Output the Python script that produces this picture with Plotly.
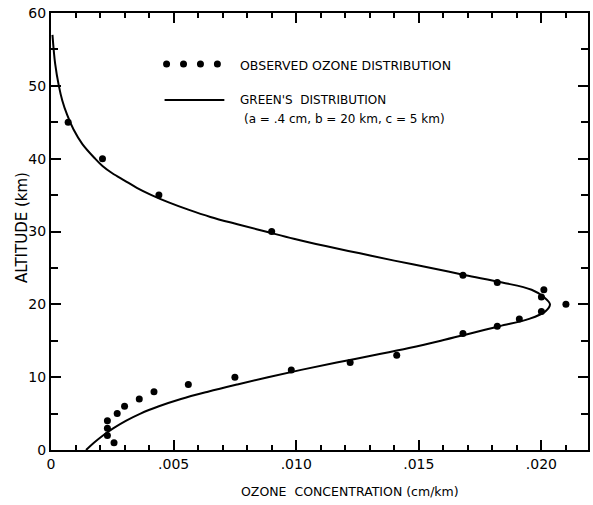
import plotly.graph_objects as go

# Observed ozone profile (altitude in km, concentration in cm/km)
obs_alt = [1, 2, 3, 4, 5, 6, 7, 8, 9, 10, 11, 12, 13, 16, 17, 18, 19, 20, 21, 22, 23, 24, 30, 35, 40, 45]
obs_conc = [0.00257, 0.0023, 0.0023, 0.0023, 0.0027, 0.0030, 0.0036, 0.0042, 0.0056, 0.0075,
            0.0098, 0.0122, 0.0141, 0.0168, 0.0182, 0.0191, 0.0200, 0.0210, 0.0200, 0.0201,
            0.0182, 0.0168, 0.0090, 0.0044, 0.0021, 0.0007]

# Green's distribution curve (a = .4 cm, b = 20 km, c = 5 km)
green_alt = [0, 1, 2, 3, 4, 5, 6, 7, 8, 9, 10, 11, 12, 13, 14, 15, 16, 17, 18, 19, 20,
             21, 22, 23, 24, 25, 26, 27, 28, 29, 30, 31, 32, 33, 34, 35, 36, 37, 38, 39, 40,
             42, 44, 46, 48, 50, 53, 57]
green_conc = [0.00143, 0.00175, 0.00212, 0.00255, 0.00305, 0.00365, 0.00440, 0.00530,
              0.00640, 0.00760, 0.00885, 0.01020, 0.01165, 0.01315, 0.01460, 0.01590,
              0.01710, 0.01830, 0.01950, 0.02015, 0.02035, 0.02010, 0.01960, 0.01840,
              0.01690, 0.01550, 0.01400, 0.01260, 0.01120, 0.00990, 0.00875, 0.00760,
              0.00650, 0.00560, 0.00480, 0.00410, 0.00350, 0.00300, 0.00250, 0.00210,
              0.00180, 0.00128, 0.00092, 0.00066, 0.00046, 0.00032, 0.00017, 0.00006]

x_tickvals = [0, 0.005, 0.010, 0.015, 0.020]
x_ticktext = ["0", ".005", ".010", ".015", ".020"]
y_tickvals = [0, 10, 20, 30, 40, 50, 60]
y_ticktext = ["0", "10", "20", "30", "40", "50", "60"]

FONT = "DejaVu Sans"
W, H = 593, 505
ML, MR, MT, MB = 51, 3, 13, 55
PW, PH = W - ML - MR, H - MT - MB


def px(xpix):
    return (xpix - ML) / PW


def py(ypix):
    return 1 - (ypix - MT) / PH


fig = go.Figure()
fig.add_trace(go.Scatter(
    x=green_conc, y=green_alt, mode="lines",
    line=dict(color="black", width=2, shape="spline", smoothing=1.0),
    hoverinfo="skip", showlegend=False))
fig.add_trace(go.Scatter(
    x=obs_conc, y=obs_alt, mode="markers",
    marker=dict(color="black", size=7),
    showlegend=False))

axis_common = dict(
    showgrid=False, zeroline=False, showline=True, linecolor="black", linewidth=2,
    mirror="ticks", ticks="inside", tickcolor="black", tickwidth=1.5,
    tickfont=dict(family=FONT, size=14, color="black"),
)

fig.update_xaxes(
    range=[0, 0.0219], tickvals=x_tickvals, ticktext=x_ticktext, ticklen=10,
    minor=dict(ticks="inside", dtick=0.001, tick0=0, ticklen=5, tickcolor="black", tickwidth=1.5),
    **axis_common)
fig.update_yaxes(
    range=[0, 60], tickvals=y_tickvals, ticktext=y_ticktext, ticklen=10,
    minor=dict(ticks="inside", dtick=5, tick0=0, ticklen=7, tickcolor="black", tickwidth=1.5),
    **axis_common)


def label(text, x, y, size, xanchor="center", angle=0):
    return dict(text=text, x=px(x), y=py(y), xref="paper", yref="paper",
                xanchor=xanchor, yanchor="middle", showarrow=False, textangle=angle,
                font=dict(family=FONT, size=size, color="black"))


annotations = [
    label("OZONE  CONCENTRATION (cm/km)", 351, 492, 12.5),
    label("ALTITUDE (km)", 22, 228, 15, angle=-90),
    label("OBSERVED OZONE DISTRIBUTION", 239, 65, 12.5, xanchor="left"),
    label("GREEN'S  DISTRIBUTION", 239, 100, 12, xanchor="left"),
    label("(a = .4 cm, b = 20 km, c = 5 km)", 243, 119, 12, xanchor="left"),
]

shapes = [
    dict(type="line", xref="paper", yref="paper", x0=px(165), x1=px(225), y0=py(100), y1=py(100),
         line=dict(color="black", width=2)),
]
for xd in [167, 184, 201, 218]:
    shapes.append(dict(type="circle", xref="paper", yref="paper",
                       xsizemode="pixel", ysizemode="pixel",
                       xanchor=px(xd), yanchor=py(64), x0=-3.5, x1=3.5, y0=-3.5, y1=3.5,
                       fillcolor="black", line=dict(color="black", width=0)))

fig.update_layout(
    width=W, height=H, margin=dict(l=ML, r=MR, t=MT, b=MB),
    paper_bgcolor="white", plot_bgcolor="white",
    annotations=annotations, shapes=shapes,
    font=dict(family=FONT, color="black"),
)

fig.write_html("out.html")
